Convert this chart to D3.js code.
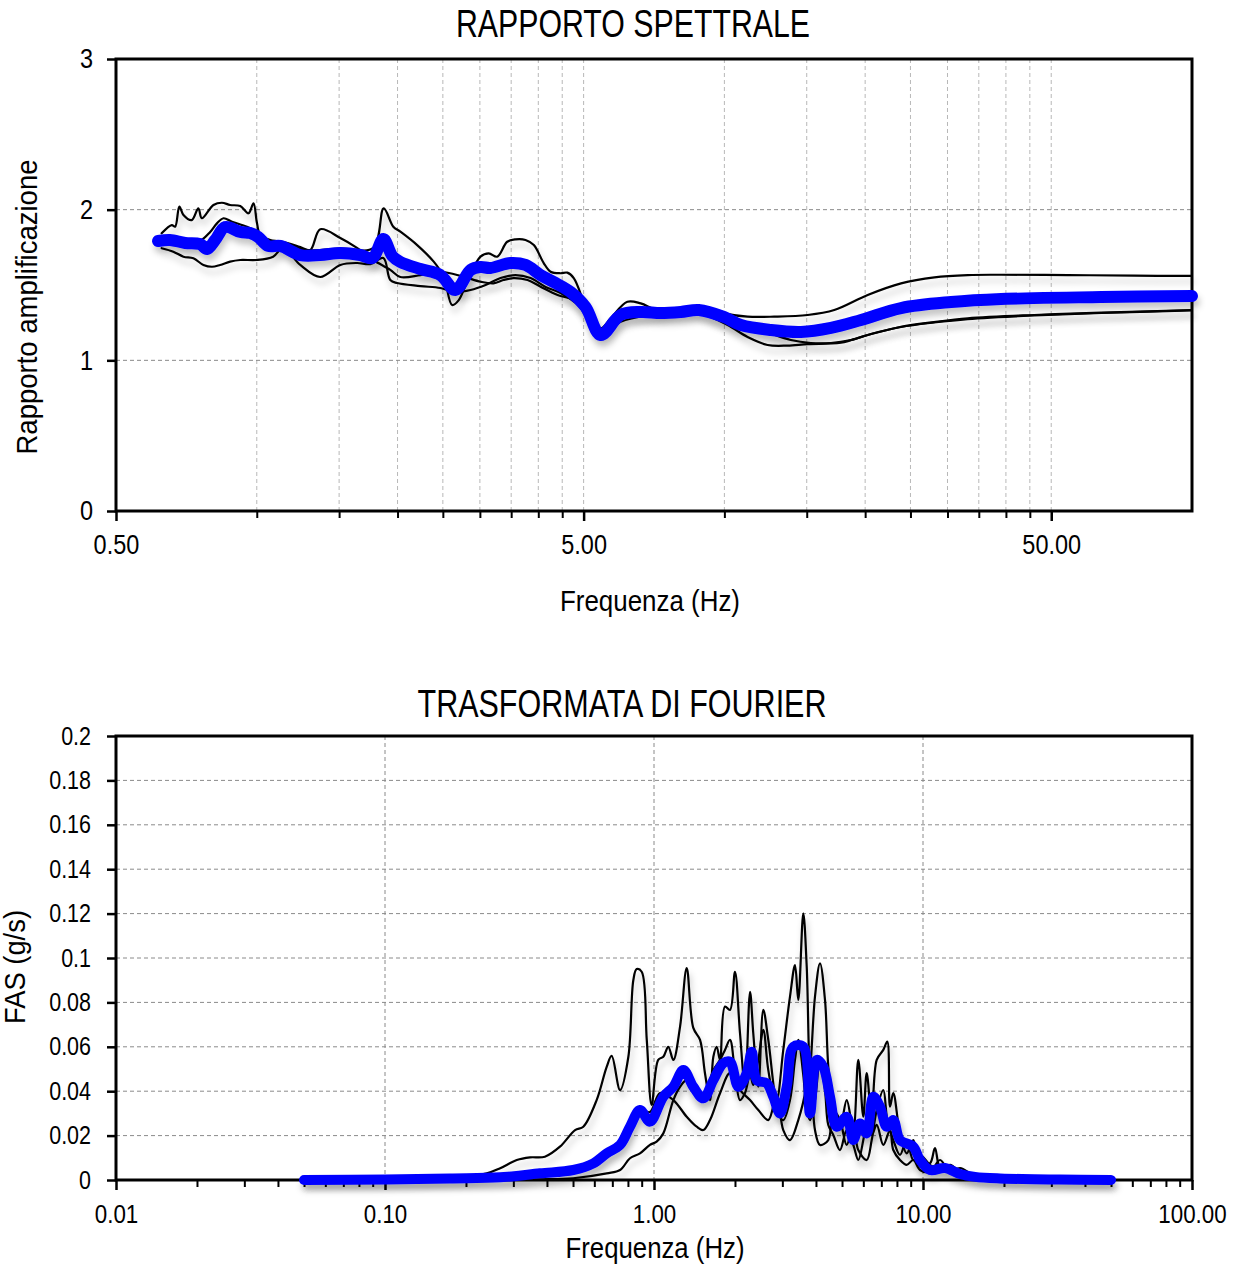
<!DOCTYPE html>
<html><head><meta charset="utf-8">
<script src="https://cdn.jsdelivr.net/npm/d3@7"></script>
<style>
body{margin:0;background:#fff}
text{font-family:"Liberation Sans",Arial,Helvetica,sans-serif;fill:#000}
</style>
</head><body>
<svg id="c" width="1239" height="1267"></svg>
<script>
// ---------- TOP CHART: RAPPORTO SPETTRALE ----------
const specFreqA = [0.626,0.658,0.669,0.683,0.697,0.726,0.750,0.763,0.808,0.842,0.877,0.922,0.960,0.984,1.001,1.017,1.068,1.122,1.280,1.509,1.775,1.868,1.959,2.028,2.203,2.390,2.511,2.617,2.704,2.818,3.009,3.134,3.267,3.432,3.575,3.756,3.913,4.111,4.250,4.464,4.614,4.767,5.092,5.437,5.712,6.202,6.624,7.191,7.936,8.904,9.986,11.21,12.78,15.07,17.18,20.25,23.87,28.13,33.15,39.08,54.3,75.3,100];
const specA = [1.843,1.898,1.887,2.020,1.965,1.931,2.009,1.943,2.031,2.046,2.031,2.024,1.976,2.042,1.911,1.832,1.799,1.787,1.732,1.742,1.746,2.009,1.887,1.854,1.765,1.655,1.555,1.367,1.400,1.522,1.688,1.710,1.688,1.787,1.803,1.799,1.765,1.644,1.588,1.578,1.582,1.544,1.334,1.213,1.279,1.389,1.378,1.334,1.345,1.356,1.312,1.290,1.290,1.301,1.334,1.434,1.511,1.551,1.566,1.568,1.566,1.562,1.560];
const specFreqB = [0.621,0.659,0.706,0.756,0.795,0.822,0.849,0.885,0.953,1.001,1.042,1.139,1.239,1.301,1.367,1.509,1.638,1.775,1.930,2.028,2.239,2.470,2.767,3.009,3.208,3.370,3.540,3.794,4.045,4.399,4.760,4.927,5.437,6.000,6.399,7.309,8.602,9.972,11.97,13.87,15.31,16.90,18.65,20.58,23.87,28.08,33.15,45.97,63.97,100];
const specB = [1.792,1.799,1.779,1.792,1.852,1.909,1.943,1.920,1.887,1.852,1.799,1.785,1.752,1.732,1.870,1.812,1.746,1.666,1.600,1.553,1.566,1.588,1.555,1.522,1.511,1.533,1.546,1.533,1.489,1.434,1.400,1.347,1.181,1.256,1.281,1.314,1.334,1.268,1.201,1.135,1.115,1.115,1.135,1.175,1.221,1.251,1.274,1.298,1.314,1.331];
const specFreqC = [0.626,0.663,0.697,0.732,0.769,0.802,0.835,0.877,0.922,1.001,1.084,1.139,1.239,1.367,1.509,1.638,1.749,1.865,1.930,1.995,2.239,2.470,2.660,2.865,3.085,3.321,3.575,3.850,4.146,4.464,4.807,5.176,5.437,5.712,6.181,6.957,8.066,8.904,10.16,11.21,12.37,13.65,15.07,17.75,20.25,23.87,28.08,33.15,45.97,63.97,100];
const specC = [1.744,1.721,1.688,1.677,1.633,1.621,1.633,1.655,1.666,1.666,1.688,1.746,1.633,1.553,1.633,1.646,1.639,1.679,1.533,1.513,1.493,1.480,1.454,1.467,1.500,1.546,1.566,1.546,1.487,1.447,1.381,1.281,1.201,1.254,1.294,1.307,1.314,1.312,1.234,1.155,1.102,1.098,1.108,1.117,1.168,1.223,1.254,1.279,1.301,1.316,1.334];
const specFreqMean = [0.615,0.652,0.703,0.756,0.783,0.815,0.856,0.922,0.968,1.007,1.058,1.122,1.239,1.367,1.509,1.665,1.767,1.865,1.950,2.028,2.239,2.470,2.660,2.865,3.009,3.161,3.488,3.756,4.045,4.356,4.690,5.049,5.437,6.000,6.624,7.309,8.066,8.817,9.972,10.85,12.58,14.58,16.90,19.60,23.87,30.54,39.08,63.97,100];
const specMean = [1.792,1.799,1.779,1.772,1.739,1.799,1.885,1.852,1.845,1.819,1.759,1.759,1.699,1.699,1.712,1.699,1.679,1.805,1.692,1.653,1.606,1.566,1.467,1.600,1.619,1.613,1.646,1.633,1.566,1.513,1.454,1.354,1.168,1.301,1.321,1.314,1.321,1.334,1.288,1.234,1.201,1.188,1.215,1.268,1.347,1.387,1.407,1.420,1.427];
const specXTicks = [0.5, 5, 50];
const specXTickLabels = ["0.50", "5.00", "50.00"];
const specYTicks = [0, 1, 2, 3];

// ---------- BOTTOM CHART: TRASFORMATA DI FOURIER ----------
const fasFreqD = [0.05,0.1,0.174,0.239,0.268,0.309,0.346,0.393,0.447,0.509,0.546,0.612,0.667,0.696,0.748,0.803,0.838,0.862,0.900,0.940,0.980,1.037,1.083,1.130,1.180,1.250,1.323,1.400,1.483,1.547,1.615,1.662,1.710,1.760,1.836,1.916,2.000,2.088,2.179,2.275,2.339,2.442,2.549,2.660,2.858,3.024,3.203,3.343,3.439,3.589,3.696,3.801,3.967,4.141,4.322,4.446,4.640,4.914,5.204,5.506,5.747,5.999,6.176,6.446,6.729,7.119,7.367,7.539,7.755,8.213,8.698,9.203,9.746,10.62,11.08,11.57,12.60,13.73,15.61,19.33,32.31,50];
const fasD = [0,0.0002,0.0007,0.0030,0.0053,0.0090,0.0102,0.0105,0.0150,0.0225,0.0240,0.0360,0.0510,0.0559,0.0405,0.0555,0.0901,0.0950,0.0938,0.0631,0.0338,0.0541,0.0555,0.0600,0.0541,0.0691,0.0954,0.0685,0.0631,0.0481,0.0360,0.0555,0.0600,0.0541,0.0781,0.0766,0.0938,0.0661,0.0420,0.0848,0.0661,0.0420,0.0766,0.0631,0.0360,0.0586,0.0826,0.0968,0.0811,0.1201,0.0961,0.0510,0.0826,0.0976,0.0811,0.0510,0.0300,0.0240,0.0360,0.0225,0.0541,0.0285,0.0481,0.0285,0.0541,0.0586,0.0623,0.0330,0.0391,0.0210,0.0120,0.0180,0.0060,0.0075,0.0144,0.0054,0.0036,0.0054,0.0018,0.0009,0.0002,0];
const fasFreqE = [0.05,0.268,0.377,0.501,0.667,0.748,0.814,0.887,0.966,1.023,1.083,1.180,1.250,1.323,1.400,1.483,1.570,1.662,1.760,1.836,1.916,2.000,2.088,2.179,2.275,2.339,2.442,2.549,2.660,2.858,3.024,3.203,3.343,3.439,3.589,3.696,3.801,3.967,4.141,4.322,4.446,4.640,4.914,5.204,5.506,5.747,5.999,6.176,6.446,6.729,7.119,7.539,7.755,8.213,8.698,9.203,9.746,10.62,11.57,12.60,13.73,15.61,19.33,50];
const fasE = [0,0,0.0003,0.0008,0.0030,0.0045,0.0098,0.0120,0.0158,0.0173,0.0210,0.0360,0.0420,0.0450,0.0405,0.0360,0.0405,0.0495,0.0541,0.0586,0.0631,0.0486,0.0360,0.0392,0.0473,0.0428,0.0541,0.0676,0.0495,0.0315,0.0270,0.0360,0.0541,0.0631,0.0473,0.0315,0.0270,0.0360,0.0541,0.0405,0.0248,0.0203,0.0135,0.0225,0.0158,0.0090,0.0180,0.0270,0.0203,0.0248,0.0158,0.0225,0.0135,0.0090,0.0068,0.0090,0.0045,0.0036,0.0090,0.0032,0.0023,0.0009,0.0005,0];
const fasFreqF = [0.05,0.1,0.174,0.268,0.377,0.501,0.595,0.667,0.748,0.814,0.887,0.966,1.053,1.180,1.323,1.441,1.525,1.615,1.760,1.916,2.088,2.275,2.442,2.660,2.858,3.024,3.203,3.439,3.696,3.801,3.967,4.141,4.446,4.640,4.914,5.204,5.506,5.747,6.176,6.446,6.729,7.119,7.367,7.755,8.213,8.698,9.203,9.746,10.62,11.57,12.60,13.73,15.61,19.33,50];
const fasF = [0,0.0002,0.0005,0.0007,0.0018,0.0041,0.0068,0.0113,0.0158,0.0234,0.0315,0.0306,0.0392,0.0360,0.0285,0.0240,0.0225,0.0270,0.0391,0.0481,0.0405,0.0360,0.0315,0.0270,0.0383,0.0225,0.0180,0.0270,0.0428,0.0541,0.0225,0.0158,0.0180,0.0315,0.0270,0.0158,0.0248,0.0135,0.0090,0.0180,0.0315,0.0405,0.0270,0.0180,0.0113,0.0180,0.0090,0.0113,0.0068,0.0045,0.0068,0.0036,0.0018,0.0007,0];
const fasFreqMean = [0.05,0.1,0.174,0.268,0.377,0.501,0.595,0.667,0.748,0.814,0.887,0.966,1.083,1.180,1.286,1.400,1.525,1.662,1.809,1.916,2.058,2.211,2.308,2.409,2.624,2.776,2.940,3.114,3.295,3.589,3.801,4.025,4.260,4.512,4.778,5.204,5.506,5.832,6.176,6.534,6.920,7.330,7.755,8.213,9.203,9.746,10.62,12.07,13.73,15.61,19.33,32.31,50];
const fasMean = [0,0.0002,0.0007,0.0012,0.0030,0.0045,0.0075,0.0120,0.0158,0.0240,0.0315,0.0263,0.0375,0.0420,0.0495,0.0420,0.0368,0.0450,0.0526,0.0533,0.0420,0.0481,0.0578,0.0450,0.0436,0.0375,0.0300,0.0420,0.0600,0.0600,0.0300,0.0541,0.0510,0.0375,0.0240,0.0285,0.0180,0.0255,0.0210,0.0375,0.0330,0.0240,0.0270,0.0180,0.0150,0.0090,0.0045,0.0054,0.0027,0.0014,0.0007,0.0002,0];
const fasXTicks = [0.01, 0.1, 1, 10, 100];
const fasXTickLabels = ["0.01", "0.10", "1.00", "10.00", "100.00"];
const fasYTicks = [0,0.02,0.04,0.06,0.08,0.1,0.12,0.14,0.16,0.18,0.2];
const fasYTickLabels = ["0","0.02","0.04","0.06","0.08","0.1","0.12","0.14","0.16","0.18","0.2"];

// ---------- DRAW ----------
const svg = d3.select("#c");
const defs = svg.append("defs");
const flt = defs.append("filter").attr("id","sh").attr("x","-5%").attr("y","-20%").attr("width","110%").attr("height","150%");
flt.append("feDropShadow").attr("dx",2).attr("dy",6).attr("stdDeviation",3).attr("flood-color","#000").attr("flood-opacity",0.22);

const zip = (xs, ys) => xs.map((x,i)=>[x, ys[i]]);

// horizontal condensing around each text's anchor point (mimics a condensed typeface)
function condense(sel, sx){
  sel.each(function(){
    const t = d3.select(this);
    const x = +t.attr("x") || 0, y = +t.attr("y") || 0;
    t.attr("transform", `translate(${x},${y}) scale(${sx},1) translate(${-x},${-y})`);
  });
}

function minorsFor(domain, bases){
  const out=[];
  bases.forEach(b=>{ for(let k=2;k<=9;k++){ const v=b*k; if(v>domain[0] && v<domain[1]) out.push(v);} });
  return out;
}

function drawChart(cfg){
  const g = svg.append("g");
  const x = d3.scaleLog().domain(cfg.xDomain).range([cfg.left, cfg.right]);
  const y = d3.scaleLinear().domain(cfg.yDomain).range([cfg.bottom, cfg.top]);

  g.selectAll(".vg").data(cfg.vGrid).join("line")
    .attr("x1",d=>x(d)).attr("x2",d=>x(d)).attr("y1",cfg.top).attr("y2",cfg.bottom)
    .attr("stroke",cfg.vGridColor).attr("stroke-width",1).attr("stroke-dasharray","4,3");
  g.selectAll(".hg").data(cfg.hGrid).join("line")
    .attr("y1",d=>y(d)).attr("y2",d=>y(d)).attr("x1",cfg.left).attr("x2",cfg.right)
    .attr("stroke","#8a8a8a").attr("stroke-width",1).attr("stroke-dasharray","4,3");

  const xAxis = d3.axisBottom(x).tickValues(cfg.xTicks).tickSize(10).tickFormat((d,i)=>cfg.xTickLabels[i]).tickPadding(cfg.xPad);
  const xa = g.append("g").attr("transform",`translate(0,${cfg.bottom})`).call(xAxis);
  xa.select(".domain").remove();
  xa.selectAll("line").attr("stroke","#000").attr("stroke-width",2.5);
  xa.selectAll("text").attr("font-size",cfg.xFont).call(condense, cfg.sx);
  const xm = g.append("g").attr("transform",`translate(0,${cfg.bottom})`)
    .call(d3.axisBottom(x).tickValues(cfg.xMinor).tickSize(7).tickFormat(""));
  xm.select(".domain").remove();
  xm.selectAll("line").attr("stroke","#000").attr("stroke-width",2);

  const yAxis = d3.axisLeft(y).tickValues(cfg.yTicks).tickSize(9).tickFormat((d,i)=>cfg.yTickLabels[i]).tickPadding(cfg.yPad);
  const ya = g.append("g").attr("transform",`translate(${cfg.left},0)`).call(yAxis);
  ya.select(".domain").remove();
  ya.selectAll("line").attr("stroke","#000").attr("stroke-width",2.5);
  ya.selectAll("text").attr("font-size",cfg.yFont).call(condense, cfg.sx);
  xa.attr("font-family",null); ya.attr("font-family",null);

  g.append("rect").attr("x",cfg.left).attr("y",cfg.top).attr("width",cfg.right-cfg.left).attr("height",cfg.bottom-cfg.top)
    .attr("fill","none").attr("stroke","#000").attr("stroke-width",3);

  const line = d3.line().x(d=>x(d[0])).y(d=>y(d[1])).curve(d3.curveCatmullRom.alpha(0.5));
  cfg.series.forEach(s=>{
    g.append("path").datum(s.data).attr("d",line).attr("fill","none")
      .attr("stroke",s.color).attr("stroke-width",s.width)
      .attr("stroke-linejoin","round").attr("stroke-linecap","round")
      .attr("filter","url(#sh)");
  });

  g.append("text").attr("x",cfg.titleX).attr("y",cfg.titleY).attr("text-anchor","middle")
    .attr("font-size",38).attr("textLength",cfg.titleW).attr("lengthAdjust","spacingAndGlyphs").text(cfg.title);
  g.append("text").attr("x",cfg.xLabelX).attr("y",cfg.xLabelY).attr("text-anchor","middle")
    .attr("font-size",29).attr("textLength",cfg.xLabelW).attr("lengthAdjust","spacingAndGlyphs").text(cfg.xLabel);
  g.append("text").attr("transform",`translate(${cfg.yLabelX},${cfg.yLabelY}) rotate(-90)`).attr("text-anchor","middle")
    .attr("font-size",cfg.yLabelFont).attr("textLength",cfg.yLabelW).attr("lengthAdjust","spacingAndGlyphs").text(cfg.yLabel);
}

drawChart({
  left:116, right:1192, top:59, bottom:511,
  xDomain:[0.5,100], yDomain:[0,3],
  xTicks:specXTicks, xTickLabels:specXTickLabels,
  xMinor:minorsFor([0.5,100],[0.5,5,50]),
  vGrid:minorsFor([0.5,100],[0.5,5,50]).concat([5,50]), vGridColor:"#b8b8b8",
  hGrid:[1,2],
  yTicks:specYTicks, yTickLabels:specYTicks.map(String),
  xFont:28, yFont:28, sx:0.84, xPad:13, yPad:14,
  series:[
    {data:zip(specFreqA,specA), color:"#000", width:2.2},
    {data:zip(specFreqB,specB), color:"#000", width:2.2},
    {data:zip(specFreqC,specC), color:"#000", width:2.2},
    {data:zip(specFreqMean,specMean), color:"#0000ff", width:12}
  ],
  title:"RAPPORTO SPETTRALE", titleX:633, titleY:37, titleW:354,
  xLabel:"Frequenza (Hz)", xLabelX:650, xLabelY:611, xLabelW:180,
  yLabel:"Rapporto amplificazione", yLabelX:37, yLabelY:307, yLabelW:295, yLabelFont:30
});

drawChart({
  left:116, right:1192, top:736, bottom:1180,
  xDomain:[0.01,100], yDomain:[0,0.2],
  xTicks:fasXTicks, xTickLabels:fasXTickLabels,
  xMinor:minorsFor([0.01,100],[0.01,0.1,1,10]),
  vGrid:[0.1,1,10], vGridColor:"#8a8a8a",
  hGrid:fasYTicks.slice(1,-1),
  yTicks:fasYTicks, yTickLabels:fasYTickLabels,
  xFont:26, yFont:25, sx:0.86, xPad:15, yPad:16,
  series:[
    {data:zip(fasFreqD,fasD), color:"#000", width:2.2},
    {data:zip(fasFreqE,fasE), color:"#000", width:2.2},
    {data:zip(fasFreqF,fasF), color:"#000", width:2.2},
    {data:zip(fasFreqMean,fasMean), color:"#0000ff", width:10}
  ],
  title:"TRASFORMATA DI FOURIER", titleX:622, titleY:717, titleW:409,
  xLabel:"Frequenza (Hz)", xLabelX:655, xLabelY:1258, xLabelW:179,
  yLabel:"FAS (g/s)", yLabelX:25, yLabelY:967, yLabelW:114, yLabelFont:29
});
</script>
</body></html>
